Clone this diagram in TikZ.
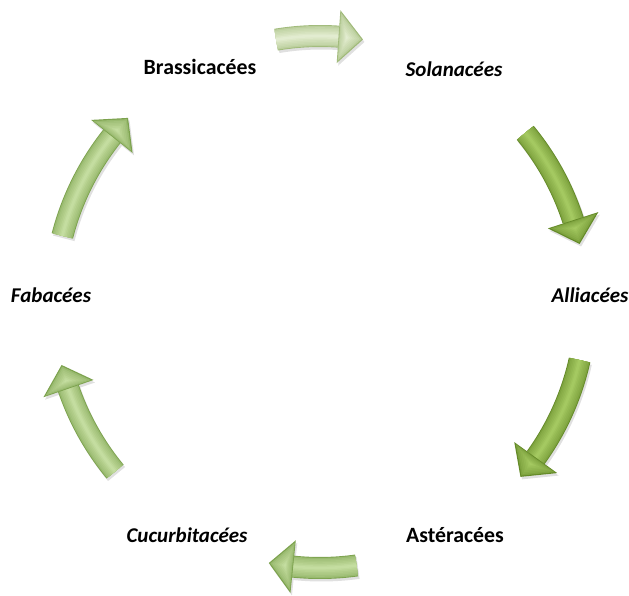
\documentclass[tikz,border=0pt]{standalone}
\usepackage{fontspec}
\setmainfont{Carlito}
\usetikzlibrary{calc}
\definecolor{aDark}{RGB}{160,186,122}
\definecolor{aLight}{RGB}{230,239,212}
\definecolor{bDark}{RGB}{100,138,40}
\definecolor{bLight}{RGB}{168,204,100}
\definecolor{cDark}{RGB}{124,162,78}
\definecolor{cLight}{RGB}{200,224,164}
\def\R{266}
\def\hA{5.3}
\newcommand\cyclearrow[4]{%
  \pgfmathsetmacro\ab{#2+\hA}%
  \pgfmathsetmacro\rHo{\R+26.5}%
  \pgfmathsetmacro\rHi{\R-26.5}%
  \pgfmathsetmacro\rSo{\R+11}%
  \pgfmathsetmacro\rSi{\R-11}%
  \coordinate (B1) at ($(C)+(\ab:\rHo)$);
  \coordinate (B2) at ($(C)+(\ab:\rHi)$);
  \coordinate (P) at ($(C)+(#2:\R)$);
  \coordinate (M) at ($(B1)!.5!(B2)$);
  \coordinate (G) at ($(M)!.3333!(P)$);
  \fill[black,opacity=.12,transform canvas={shift={(1.5pt,-2.5pt)}}]
    ($(C)+(#1:\rSo)$) arc[start angle=#1,end angle=\ab,radius=\rSo]
    -- (B1) -- (P) -- (B2) -- ($(C)+(\ab:\rSi)$)
    arc[start angle=\ab,end angle=#1,radius=\rSi] -- cycle;
  \foreach \f/\p in {1/0,.92/38,.8/52,.66/60,.52/68,.38/77,.24/87,.12/95}{%
    \pgfmathsetmacro\ro{\R+11*\f}%
    \pgfmathsetmacro\ri{\R-11*\f}%
    \fill[#4!\p!#3] ($(C)+(#1:\ro)$) arc[start angle=#1,end angle=\ab,radius=\ro]
      -- ($(C)+(\ab:\ri)$) arc[start angle=\ab,end angle=#1,radius=\ri] -- cycle;
  }
  \foreach \f/\p in {1/0,.9/38,.78/52,.64/60,.5/68,.36/77,.22/87,.1/95}{%
    \fill[#4!\p!#3] ($(G)!\f!(B1)$) -- ($(G)!\f!(P)$) -- ($(G)!\f!(B2)$) -- cycle;
  }
}
\tikzset{
  lbl/.style={anchor=base, inner sep=0pt, font=\fontsize{21.8}{26}\selectfont\bfseries},
  lbli/.style={anchor=base, inner sep=0pt, font=\fontsize{21}{25}\selectfont\bfseries\itshape}
}
\begin{document}
\begin{tikzpicture}[x=1pt,y=1pt]
\useasboundingbox (0,0) rectangle (629,595);
\coordinate (C) at (320,293);
\cyclearrow{99.5}{80.7}{aDark}{aLight}
\cyclearrow{39.5}{12.6}{bDark}{bLight}
\cyclearrow{-12.6}{-41.1}{bDark}{bLight}
\cyclearrow{-82.1}{-101.1}{cDark}{cLight}
\cyclearrow{219.6}{193.7}{cDark}{cLight}
\cyclearrow{165.6}{136.2}{cDark}{cLight}
\node[lbl]  (bra) at (200,520) {Brassicacées};
\node[lbli] (sol) at (454,518) {Solanacées};
\node[lbli] (all) at (590,292) {Alliacées};
\node[lbl]  (ast) at (455,53)  {Astéracées};
\node[lbli] (cuc) at (187,53)  {Cucurbitacées};
\node[lbli] (fab) at (51,292)  {Fabacées};
\end{tikzpicture}
\end{document}
